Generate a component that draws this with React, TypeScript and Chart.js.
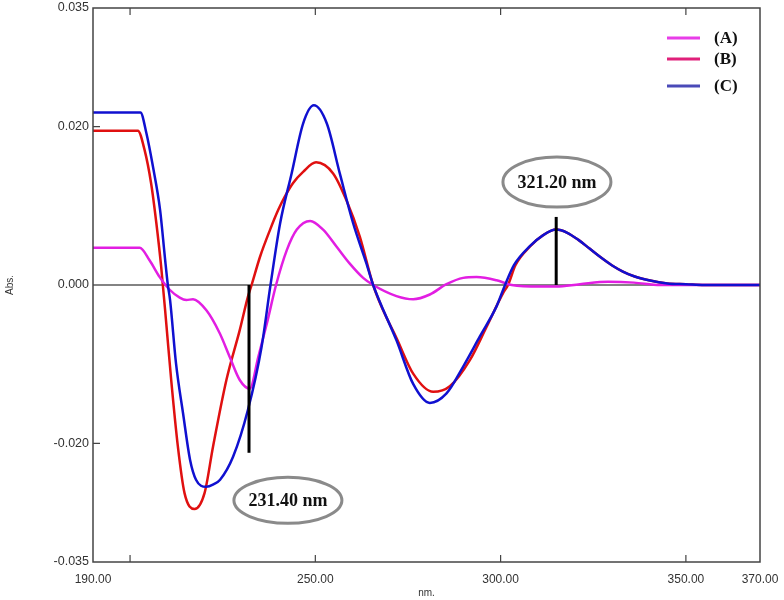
import React, { useEffect, useRef } from "react";
import { Chart, registerables } from "chart.js";

Chart.register(...registerables);

// ---- Data ----
const seriesLabels = ["(A)", "(B)", "(C)"];
const lineColors = ["#e21ee2", "#e01010", "#1010d0"];
const legendColors = ["#e83de8", "#e0207a", "#4a4ab8"];

const aNm = [190, 202.6, 205.3, 208, 210.7, 213.4, 215.2, 217, 220.6, 224.2, 226.9, 229.6, 232.3, 234.6, 236.9, 239.4, 242.3, 245, 248.6, 252.1, 255.8, 259.3, 262.9, 265.6, 271.9, 276.4, 280.9, 285.4, 289.9, 293.5, 298.9, 303, 310.6, 315, 321.4, 329, 336, 343, 355, 370];
const aAbs = [0.0047, 0.0047, 0.0031, 0.001, -0.0006, -0.0016, -0.0019, -0.0018, -0.0032, -0.0061, -0.0091, -0.012, -0.0131, -0.0091, -0.0049, 0, 0.0044, 0.007, 0.0081, 0.007, 0.0048, 0.0027, 0.0009, 0, -0.0014, -0.0018, -0.0012, 0.0001, 0.0009, 0.001, 0.0006, 0, -0.0002, -0.0002, 0.0001, 0.0004, 0.0003, 0, 0, 0];

const bNm = [190, 202.1, 203.9, 205.7, 207.1, 208.4, 209.8, 211.1, 212.9, 214.7, 217.4, 220.1, 222.4, 226, 229.6, 231.8, 232.8, 235.1, 237.8, 240, 241.8, 244, 246.7, 250.2, 254.8, 258.4, 262, 265.6, 268.3, 271.9, 276.4, 281.8, 286.3, 291.7, 296.2, 300.7, 302, 304, 308, 311.5, 315, 318, 321, 324, 327, 330, 333, 336, 340, 345, 350, 355, 370];
const bAbs = [0.0195, 0.0195, 0.0171, 0.0128, 0.0078, 0.0023, -0.005, -0.012, -0.0204, -0.0263, -0.0283, -0.0263, -0.0204, -0.012, -0.0057, -0.0015, 0, 0.0036, 0.007, 0.0095, 0.0112, 0.0129, 0.0143, 0.0155, 0.0141, 0.0107, 0.0061, 0, -0.0032, -0.0067, -0.0112, -0.0135, -0.0128, -0.0095, -0.0053, -0.001, 0, 0.0025, 0.0049, 0.0063, 0.007, 0.0066, 0.0057, 0.0046, 0.0035, 0.0025, 0.0017, 0.0011, 0.0006, 0.0002, 0.0001, 0, 0];

const cNm = [190, 202.8, 204.4, 206.2, 208.1, 209.4, 210.2, 210.8, 212.4, 214.3, 216.2, 217.8, 220.5, 222.5, 224.3, 227.8, 231.8, 235.5, 237.9, 240.5, 243.6, 246.7, 249.6, 253.1, 256.6, 260.2, 263.8, 265.6, 271.9, 276.4, 280.9, 285.4, 289.9, 294.4, 298.9, 301.2, 303.6, 307.9, 311.5, 315, 318, 321, 324, 327, 330, 333, 336, 340, 345, 350, 355, 370];
const cAbs = [0.0218, 0.0218, 0.0192, 0.0149, 0.0095, 0.0035, 0, -0.0019, -0.0099, -0.0162, -0.0221, -0.0246, -0.0255, -0.0252, -0.0246, -0.0217, -0.0158, -0.0078, 0, 0.0078, 0.0141, 0.0204, 0.0227, 0.0204, 0.0141, 0.0078, 0.0027, 0, -0.0070, -0.0125, -0.0149, -0.0137, -0.0103, -0.0065, -0.0027, 0, 0.0025, 0.0049, 0.0063, 0.007, 0.0066, 0.0057, 0.0046, 0.0035, 0.0025, 0.0017, 0.0011, 0.0006, 0.0002, 0.0001, 0, 0];

const xTickLabels = [190, 250, 300, 350, 370];
const xTickMarks = [200, 250, 300, 350];
const yTickLabels = [-0.035, -0.02, 0, 0.02, 0.035];
const yTickMarks = [-0.02, 0.02];

// annotation markers: vertical line at x from 0 to top value, label text, ellipse center
const markerX = [232.1, 315.0];
const markerTop = [-0.0212, 0.0086];
const markerText = ["231.40 nm", "321.20 nm"];
const bubbleX = [242.6, 315.2];
const bubbleY = [-0.0272, 0.013];

const toPoints = (xs: number[], ys: number[]) => xs.map((x, i) => ({ x, y: ys[i] }));

const decorPlugin = {
  id: "decor",
  beforeDatasetsDraw(chart: any) {
    const { ctx, chartArea, scales } = chart;
    const y = scales.y;
    ctx.save();
    ctx.strokeStyle = "#5a5a5a";
    ctx.lineWidth = 1.5;
    ctx.beginPath();
    const y0 = y.getPixelForValue(0);
    ctx.moveTo(chartArea.left, y0);
    ctx.lineTo(chartArea.right, y0);
    ctx.stroke();
    ctx.restore();
  },
  afterDatasetsDraw(chart: any) {
    const { ctx, chartArea, scales } = chart;
    const x = scales.x;
    const y = scales.y;
    ctx.save();
    // frame
    ctx.strokeStyle = "#444";
    ctx.lineWidth = 1.5;
    ctx.strokeRect(chartArea.left, chartArea.top, chartArea.right - chartArea.left, chartArea.bottom - chartArea.top);
    // inward ticks
    ctx.lineWidth = 1.2;
    ctx.beginPath();
    xTickMarks.forEach((v) => {
      const px = x.getPixelForValue(v);
      ctx.moveTo(px, chartArea.bottom);
      ctx.lineTo(px, chartArea.bottom - 7);
      ctx.moveTo(px, chartArea.top);
      ctx.lineTo(px, chartArea.top + 7);
    });
    yTickMarks.forEach((v) => {
      const py = y.getPixelForValue(v);
      ctx.moveTo(chartArea.left, py);
      ctx.lineTo(chartArea.left + 7, py);
    });
    ctx.stroke();

    // markers
    markerX.forEach((mx, i) => {
      const px = x.getPixelForValue(mx);
      ctx.strokeStyle = "#000";
      ctx.lineWidth = 3;
      ctx.beginPath();
      ctx.moveTo(px, y.getPixelForValue(0));
      ctx.lineTo(px, y.getPixelForValue(markerTop[i]));
      ctx.stroke();
      const cx = x.getPixelForValue(bubbleX[i]);
      const cy = y.getPixelForValue(bubbleY[i]);
      ctx.beginPath();
      ctx.ellipse(cx, cy, 54, i === 0 ? 23 : 25, 0, 0, Math.PI * 2);
      ctx.fillStyle = "#fff";
      ctx.fill();
      ctx.strokeStyle = "#8a8a8a";
      ctx.lineWidth = 3;
      ctx.stroke();
      ctx.fillStyle = "#111";
      ctx.font = "bold 18px 'Liberation Serif', 'Times New Roman', serif";
      ctx.textAlign = "center";
      ctx.textBaseline = "middle";
      ctx.fillText(markerText[i], cx, cy + 1);
    });

    // legend
    const legY = [38, 59, 86];
    chart.data.datasets.forEach((ds: any, i: number) => {
      ctx.strokeStyle = legendColors[i];
      ctx.lineWidth = 3;
      ctx.beginPath();
      ctx.moveTo(chartArea.right - 93, legY[i]);
      ctx.lineTo(chartArea.right - 60, legY[i]);
      ctx.stroke();
      ctx.fillStyle = "#111";
      ctx.font = "bold 17px 'Liberation Serif', 'Times New Roman', serif";
      ctx.textAlign = "left";
      ctx.textBaseline = "middle";
      ctx.fillText(ds.label, chartArea.right - 46, legY[i] + 1);
    });
    ctx.restore();
  },
};

export default function App() {
  const ref = useRef<HTMLCanvasElement | null>(null);
  useEffect(() => {
    document.body.style.margin = "0";
    const canvas = ref.current!;
    const tickFont = { family: "'Liberation Sans', Arial, sans-serif", size: 12 };
    const chart = new Chart(canvas, {
      type: "line",
      data: {
        datasets: [
          { label: seriesLabels[0], data: toPoints(aNm, aAbs), borderColor: lineColors[0], order: 1 },
          { label: seriesLabels[1], data: toPoints(bNm, bAbs), borderColor: lineColors[1], order: 2 },
          { label: seriesLabels[2], data: toPoints(cNm, cAbs), borderColor: lineColors[2], order: 0 },
        ].map((d) => ({
          ...d,
          borderWidth: 2.5,
          pointRadius: 0,
          fill: false,
          cubicInterpolationMode: "monotone" as const,
        })),
      },
      options: {
        animation: false,
        responsive: false,
        maintainAspectRatio: false,
        devicePixelRatio: 1,
        layout: { padding: { top: 8, right: 24, left: 0, bottom: 0 } },
        plugins: { legend: { display: false }, tooltip: { enabled: false } },
        scales: {
          x: {
            type: "linear",
            min: 190,
            max: 370,
            afterBuildTicks: (s: any) => {
              s.ticks = xTickLabels.map((v) => ({ value: v }));
            },
            afterFit: (s: any) => {
              s.height = 38;
              s.paddingLeft = 0;
              s.paddingRight = 0;
              s.paddingTop = 0;
              s.paddingBottom = 0;
            },
            grid: { display: false, drawTicks: false },
            border: { display: false },
            ticks: {
              autoSkip: false,
              maxRotation: 0,
              padding: 10,
              color: "#333",
              font: tickFont,
              callback: (v: any) => Number(v).toFixed(2),
            },
            title: {
              display: true,
              text: "nm.",
              color: "#333",
              font: { family: "'Liberation Sans', Arial, sans-serif", size: 10 },
              padding: { top: 0, bottom: 1 },
            },
          },
          y: {
            type: "linear",
            min: -0.035,
            max: 0.035,
            afterBuildTicks: (s: any) => {
              s.ticks = yTickLabels.map((v) => ({ value: v }));
            },
            afterFit: (s: any) => {
              s.width = 93;
              s.paddingLeft = 0;
              s.paddingRight = 0;
              s.paddingTop = 0;
              s.paddingBottom = 0;
            },
            grid: { display: false, drawTicks: false },
            border: { display: false },
            ticks: {
              autoSkip: false,
              padding: 4,
              color: "#333",
              font: { family: "'Liberation Sans', Arial, sans-serif", size: 12.5 },
              callback: (v: any) => Number(v).toFixed(3),
            },
            title: {
              display: true,
              text: "Abs.",
              color: "#333",
              font: { family: "'Liberation Sans', Arial, sans-serif", size: 10 },
              padding: { top: 4, bottom: 0 },
            },
          },
        },
      },
      plugins: [decorPlugin],
    });
    return () => chart.destroy();
  }, []);
  return (
    <div style={{ width: 784, height: 600, background: "#fff" }}>
      <canvas ref={ref} width={784} height={600} style={{ display: "block" }} />
    </div>
  );
}
